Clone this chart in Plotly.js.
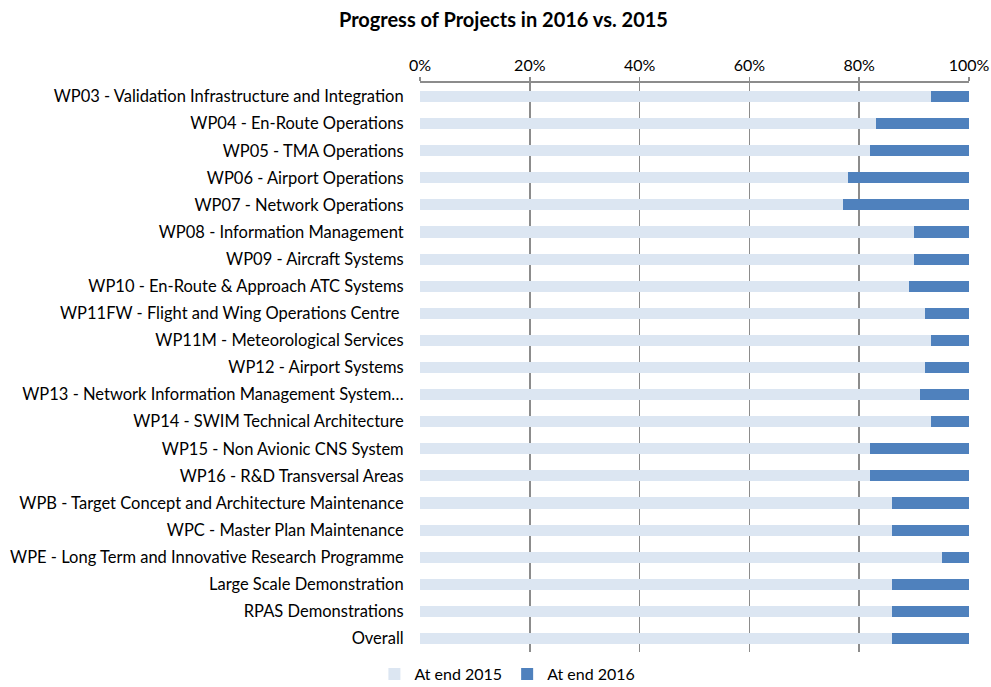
<!DOCTYPE html>
<html>
<head>
<meta charset="utf-8">
<script src="https://cdn.plot.ly/plotly-3.0.1.min.js"></script>
<style>html,body{margin:0;padding:0;background:#fff;}#chart{width:991px;height:687px;}</style>
</head>
<body>
<div id="chart"></div>
<script>
const categories = [
  "WP03 - Validation Infrastructure and Integration",
  "WP04 - En-Route Operations",
  "WP05 - TMA Operations",
  "WP06 - Airport Operations",
  "WP07 - Network Operations",
  "WP08 - Information Management",
  "WP09 - Aircraft Systems",
  "WP10 - En-Route & Approach ATC Systems",
  "WP11FW - Flight and Wing Operations Centre ",
  "WP11M - Meteorological Services",
  "WP12 - Airport Systems",
  "WP13 - Network Information Management System…",
  "WP14 - SWIM Technical Architecture",
  "WP15 - Non Avionic CNS System",
  "WP16 - R&D Transversal Areas",
  "WPB - Target Concept and Architecture Maintenance",
  "WPC - Master Plan Maintenance",
  "WPE - Long Term and Innovative Research Programme",
  "Large Scale Demonstration",
  "RPAS Demonstrations",
  "Overall"
];
const end2015 = [0.93, 0.83, 0.82, 0.78, 0.77, 0.90, 0.90, 0.89, 0.92, 0.93, 0.92, 0.91, 0.93, 0.82, 0.82, 0.86, 0.86, 0.95, 0.86, 0.86, 0.86];
const end2016 = [0.07, 0.17, 0.18, 0.22, 0.23, 0.10, 0.10, 0.11, 0.08, 0.07, 0.08, 0.09, 0.07, 0.18, 0.18, 0.14, 0.14, 0.05, 0.14, 0.14, 0.14];
const tickVals = [0, 0.2, 0.4, 0.6, 0.8, 1.0];
const tickText = ["0%", "20%", "40%", "60%", "80%", "100%"];

const font = "Lato, 'Open Sans', sans-serif";

const traces = [
  {type: 'bar', orientation: 'h', name: 'At end 2015', y: categories, x: end2015,
   marker: {color: '#DCE6F2'}},
  {type: 'bar', orientation: 'h', name: 'At end 2016', y: categories, x: end2016,
   marker: {color: '#4F81BD'}}
];

const layout = {
  width: 991, height: 687,
  margin: {l: 420, r: 22, t: 83, b: 35, pad: 0, autoexpand: false},
  paper_bgcolor: '#fff', plot_bgcolor: '#fff',
  barmode: 'stack', bargap: 0.59,
  font: {family: font, size: 16.5, color: '#000'},
  title: {text: '<b>Progress of Projects in 2016 vs. 2015</b>', font: {family: font, size: 20, color: '#000'},
          x: 0.508, xref: 'container', xanchor: 'center', y: 1 - 20 / 687, yref: 'container', yanchor: 'middle'},
  xaxis: {side: 'top', range: [0, 1], tickvals: tickVals, ticktext: tickText,
          showgrid: true, gridcolor: '#8c8c8c', gridwidth: 1.5,
          showline: true, linecolor: '#8c8c8c', linewidth: 2,
          ticks: 'outside', ticklen: 4, tickcolor: '#8c8c8c', tickwidth: 1.5,
          zeroline: false, fixedrange: true, tickfont: {size: 16}, automargin: false},
  yaxis: {autorange: 'reversed', type: 'category', showgrid: false, zeroline: false,
          showline: false, ticks: 'outside', ticklen: 12, tickcolor: 'rgba(0,0,0,0)',
          tickfont: {size: 16.5}, fixedrange: true, automargin: false},
  showlegend: true,
  legend: {orientation: 'h', x: 0.512, xref: 'container', xanchor: 'center', y: 1 - 674 / 687, yref: 'container', yanchor: 'middle',
           font: {size: 16}, traceorder: 'normal', itemclick: false}
};

Plotly.newPlot('chart', traces, layout, {displayModeBar: false, staticPlot: true});
</script>
</body>
</html>
